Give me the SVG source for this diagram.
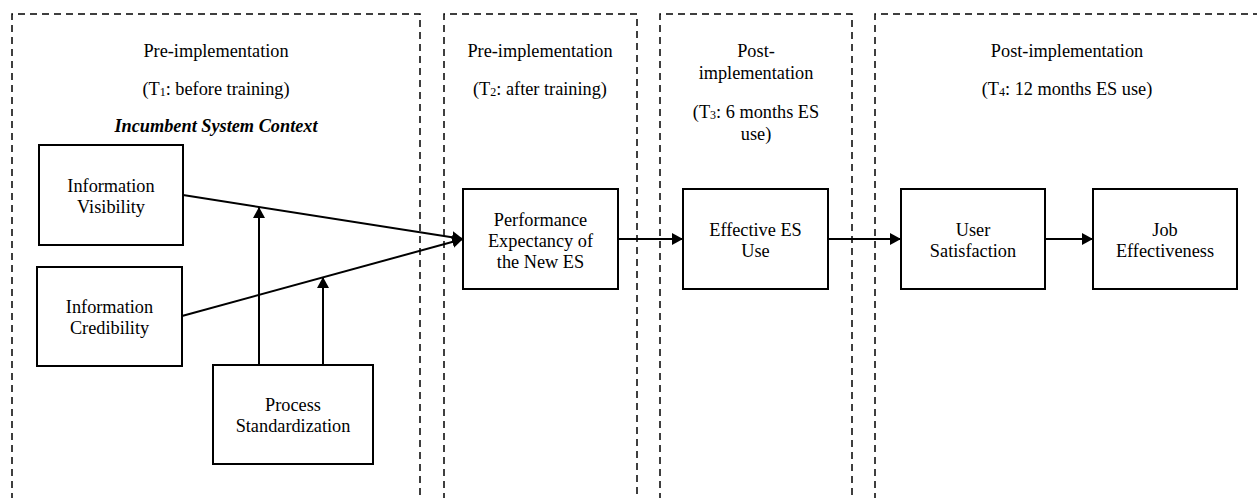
<svg xmlns="http://www.w3.org/2000/svg" width="1257" height="498" viewBox="0 0 1257 498">
<style>
text{font-family:"Liberation Serif","Times New Roman",serif;font-size:18.3px;fill:#000;text-anchor:middle}
.phase{fill:none;stroke:#000;stroke-width:1.5;stroke-dasharray:7 5}
.node rect{fill:#fff;stroke:#000;stroke-width:2}
.conn line{stroke:#000;stroke-width:2}
.ctx{font-weight:bold;font-style:italic}
.sub{font-size:12px}
</style>
<defs>
<marker id="ah" markerUnits="userSpaceOnUse" markerWidth="11" markerHeight="12" viewBox="0 0 11 12" refX="11" refY="6" orient="auto">
<path d="M0,0 L11,6 L0,12 z" fill="#000"/>
</marker>
</defs>
<g id="phases">
<path class="phase" d="M12,500 V14 H420 V500"/>
<path class="phase" d="M444,500 V14 H637 V500"/>
<path class="phase" d="M660,500 V14 H852 V500"/>
<path class="phase" d="M875,500 V14 H1262"/>
<text x="216" y="57">Pre-implementation</text>
<text x="216" y="95">(T<tspan class="sub" dy="1">1</tspan><tspan dy="-1">: before training)</tspan></text>
<text class="ctx" x="216" y="132">Incumbent System Context</text>
<text x="540" y="57">Pre-implementation</text>
<text x="540" y="95">(T<tspan class="sub" dy="1">2</tspan><tspan dy="-1">: after training)</tspan></text>
<text x="756" y="57">Post-</text>
<text x="756" y="79">implementation</text>
<text x="756" y="118">(T<tspan class="sub" dy="1">3</tspan><tspan dy="-1">: 6 months ES</tspan></text>
<text x="756" y="140">use)</text>
<text x="1067" y="57">Post-implementation</text>
<text x="1067" y="95">(T<tspan class="sub" dy="1">4</tspan><tspan dy="-1">: 12 months ES use)</tspan></text>
</g>
<g id="connectors" class="conn">
<line x1="183" y1="195" x2="463" y2="239" marker-end="url(#ah)"/>
<line x1="182" y1="316" x2="463" y2="239" marker-end="url(#ah)"/>
<line x1="259" y1="365" x2="259" y2="207" marker-end="url(#ah)"/>
<line x1="323" y1="365" x2="323" y2="277" marker-end="url(#ah)"/>
<line x1="618" y1="239" x2="683" y2="239" marker-end="url(#ah)"/>
<line x1="828" y1="239" x2="901" y2="239" marker-end="url(#ah)"/>
<line x1="1045" y1="239" x2="1093" y2="239" marker-end="url(#ah)"/>
</g>
<g id="info-visibility" class="node">
<rect x="39" y="145" width="144" height="100"/>
<text x="111" y="192">Information</text>
<text x="111" y="213">Visibility</text>
</g>
<g id="info-credibility" class="node">
<rect x="37" y="267" width="145" height="99"/>
<text x="109.5" y="313">Information</text>
<text x="109.5" y="334">Credibility</text>
</g>
<g id="process-standardization" class="node">
<rect x="213" y="365" width="160" height="99"/>
<text x="293" y="411">Process</text>
<text x="293" y="432">Standardization</text>
</g>
<g id="performance-expectancy" class="node">
<rect x="463" y="189" width="155" height="100"/>
<text x="540.5" y="226">Performance</text>
<text x="540.5" y="247">Expectancy of</text>
<text x="540.5" y="268">the New ES</text>
</g>
<g id="effective-es-use" class="node">
<rect x="683" y="189" width="145" height="100"/>
<text x="755.5" y="236">Effective ES</text>
<text x="755.5" y="257">Use</text>
</g>
<g id="user-satisfaction" class="node">
<rect x="901" y="189" width="144" height="100"/>
<text x="973" y="236">User</text>
<text x="973" y="257">Satisfaction</text>
</g>
<g id="job-effectiveness" class="node">
<rect x="1093" y="189" width="144" height="100"/>
<text x="1165" y="236">Job</text>
<text x="1165" y="257">Effectiveness</text>
</g>
</svg>
